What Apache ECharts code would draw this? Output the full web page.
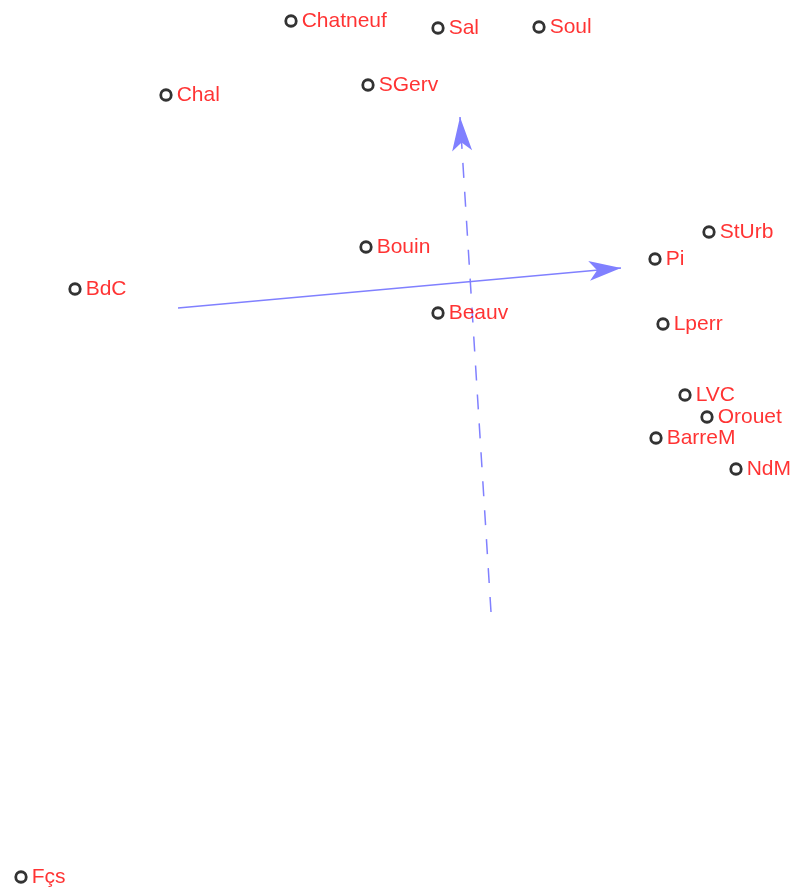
<!DOCTYPE html>
<html>
<head>
<meta charset="utf-8">
<script src="https://cdn.jsdelivr.net/npm/echarts@6/dist/echarts.min.js"></script>
<style>html,body{margin:0;padding:0;background:#fff;}#c{width:792px;height:891px;}</style>
</head>
<body>
<div id="c"></div>
<script>
var names = ['Chatneuf','Sal','Soul','Chal','SGerv','Bouin','BdC','Beauv','StUrb','Pi','Lperr','LVC','Orouet','BarreM','NdM','Fçs'];
var xs = [-1.69,-0.22,0.79,-2.94,-0.92,-0.94,-3.85,-0.22,2.49,1.95,2.03,2.25,2.47,1.96,2.76,-4.39];
var ys = [2.69,2.62,2.63,1.95,2.05,0.43,0.01,-0.23,0.58,0.31,-0.34,-1.05,-1.27,-1.48,-1.79,-5.87];
var arrow1 = [[-2.82,-0.18],[1.61,0.22]];
var arrow2 = [[0.31,-3.22],[0.00,1.73]];

var chart = echarts.init(document.getElementById('c'));
var pts = names.map(function(n,i){ return {name:n, value:[xs[i], ys[i]]}; });
chart.setOption({
  animation:false,
  backgroundColor:'#ffffff',
  grid:{left:0,right:0,top:0,bottom:0},
  xAxis:{type:'value',min:-4.60,max:3.32,show:false},
  yAxis:{type:'value',min:-6.01,max:2.90,show:false},
  series:[
    {type:'lines',coordinateSystem:'cartesian2d',
     symbol:['none','arrow'],symbolSize:[0,[15,32]],
     lineStyle:{color:'#8080ff',width:1.5,type:'solid',opacity:1},
     data:[{coords:arrow1}]},
    {type:'lines',coordinateSystem:'cartesian2d',
     symbol:['none','arrow'],symbolSize:[0,[15,34]],
     lineStyle:{color:'#8080ff',width:1.5,type:[15,14],opacity:1},
     data:[{coords:arrow2}]},
    {type:'scatter',data:pts,symbol:'circle',symbolSize:10.5,
     itemStyle:{color:'#ffffff',borderColor:'#000000',borderWidth:2.8},
     label:{show:true,position:'right',distance:4,formatter:'{b}',
       color:'#ff0000',fontSize:21,fontFamily:'Liberation Sans, Arial, sans-serif'}}
  ]
});
</script>
</body>
</html>
